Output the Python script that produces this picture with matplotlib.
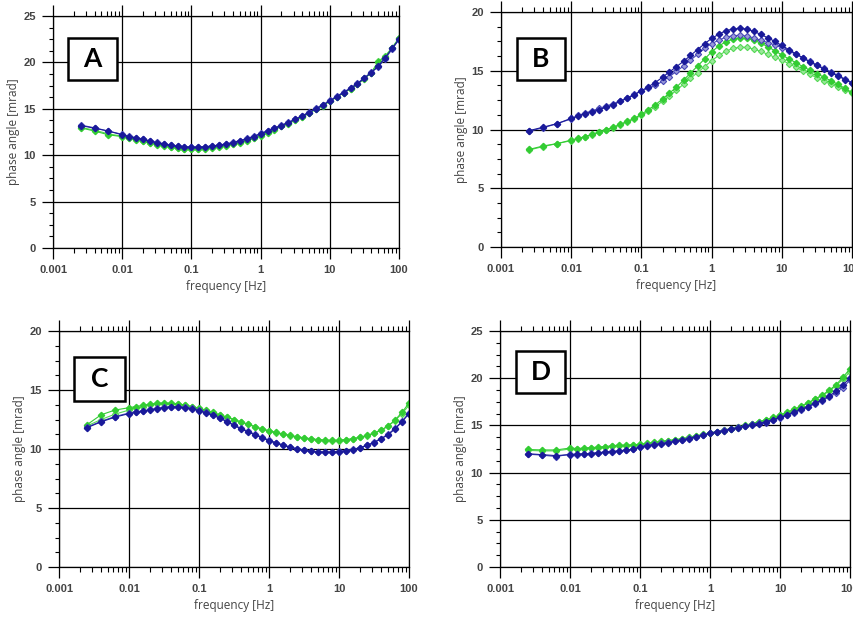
import matplotlib
matplotlib.use("Agg")
import matplotlib.pyplot as plt
from matplotlib.patches import Rectangle
from matplotlib.ticker import MultipleLocator, FixedLocator, FixedFormatter

freq = [0.0025, 0.004, 0.0063, 0.01, 0.0126, 0.0158, 0.02, 0.0251, 0.0316, 0.0398,
        0.05, 0.0631, 0.0794, 0.1, 0.126, 0.158, 0.2, 0.251, 0.316, 0.398,
        0.5, 0.631, 0.794, 1, 1.26, 1.58, 2, 2.51, 3.16, 3.98,
        5, 6.31, 7.94, 10, 12.6, 15.8, 20, 25.1, 31.6, 39.8,
        50, 63.1, 79.4, 100]

# panel A
a_blue1 = [13.2, 12.9, 12.6, 12.2, 12.0, 11.85, 11.7, 11.5, 11.35, 11.2, 11.05, 10.95, 10.88, 10.83,
           10.85, 10.9, 10.98, 11.08, 11.2, 11.35, 11.55, 11.75, 12.0, 12.3, 12.6, 12.9, 13.2, 13.5,
           13.85, 14.2, 14.6, 15.0, 15.4, 15.85, 16.3, 16.75, 17.2, 17.7, 18.3, 18.9, 19.6, 20.5, 21.5, 22.5]
a_blue2 = [13.25, 12.95, 12.6, 12.25, 12.05, 11.9, 11.75, 11.55, 11.4, 11.25, 11.1, 11.0, 10.92, 10.88,
           10.88, 10.92, 11.0, 11.1, 11.22, 11.38, 11.58, 11.8, 12.05, 12.35, 12.65, 12.95, 13.25, 13.55,
           13.9, 14.25, 14.65, 15.05, 15.45, 15.9, 16.35, 16.8, 17.25, 17.75, 18.35, 18.95, 19.5, 20.4, 21.4, 22.45]
a_green1 = [12.95, 12.6, 12.2, 12.0, 11.8, 11.65, 11.5, 11.3, 11.15, 11.0, 10.85, 10.75, 10.68, 10.65,
            10.67, 10.72, 10.8, 10.9, 11.02, 11.17, 11.35, 11.55, 11.8, 12.1, 12.4, 12.75, 13.1, 13.4,
            13.75, 14.1, 14.5, 14.95, 15.35, 15.8, 16.25, 16.7, 17.15, 17.65, 18.25, 18.9, 20.0, 20.6, 21.5, 22.6]
a_green2 = [13.0, 12.7, 12.3, 12.05, 11.85, 11.7, 11.55, 11.35, 11.2, 11.05, 10.9, 10.8, 10.72, 10.7,
            10.72, 10.77, 10.85, 10.95, 11.07, 11.22, 11.4, 11.6, 11.85, 12.15, 12.45, 12.8, 13.12, 13.45,
            13.8, 14.15, 14.55, 14.98, 15.4, 15.82, 16.28, 16.72, 17.18, 17.68, 18.28, 18.9, 20.1, 20.7, 21.6, 22.65]

# panel B
b_blue1 = [9.9, 10.2, 10.5, 10.95, 11.15, 11.35, 11.5, 11.7, 11.9, 12.1, 12.4, 12.65, 12.95, 13.3,
           13.65, 14.0, 14.45, 14.9, 15.35, 15.8, 16.3, 16.8, 17.3, 17.75, 18.1, 18.4, 18.55, 18.6,
           18.55, 18.35, 18.1, 17.8, 17.5, 17.15, 16.8, 16.45, 16.1, 15.75, 15.45, 15.15, 14.85, 14.55, 14.25, 13.95]
b_blue2 = [9.85, 10.15, 10.5, 10.9, 11.2, 11.4, 11.6, 11.8, 12.0, 12.2, 12.45, 12.7, 13.0, 13.3,
           13.5, 13.75, 14.1, 14.5, 14.95, 15.4, 15.9, 16.4, 16.9, 17.3, 17.6, 17.85, 17.98, 18.02,
           17.95, 17.8, 17.6, 17.4, 17.2, 16.95, 16.7, 16.4, 16.1, 15.8, 15.5, 15.2, 14.9, 14.6, 14.3, 14.0]
b_green1 = [8.3, 8.6, 8.8, 9.1, 9.25, 9.4, 9.6, 9.8, 10.0, 10.2, 10.45, 10.7, 10.95, 11.3,
            11.7, 12.1, 12.6, 13.1, 13.6, 14.2, 14.8, 15.4, 16.0, 16.6, 17.1, 17.45, 17.7, 17.8,
            17.75, 17.6, 17.35, 17.05, 16.7, 16.35, 16.0, 15.7, 15.35, 15.05, 14.75, 14.45, 14.15, 13.85, 13.5, 13.15]
b_green2 = [8.25, 8.55, 8.8, 9.05, 9.2, 9.4, 9.55, 9.75, 9.95, 10.15, 10.4, 10.65, 10.9, 11.2,
            11.55, 11.95, 12.4, 12.85, 13.35, 13.85, 14.35, 14.85, 15.35, 15.85, 16.3, 16.65, 16.9, 17.0,
            16.98, 16.85, 16.65, 16.4, 16.15, 15.9, 15.6, 15.3, 15.0, 14.7, 14.4, 14.1, 13.85, 13.6, 13.35, 13.1]

# panel C
c_blue1 = [11.8, 12.3, 12.7, 13.0, 13.1, 13.2, 13.3, 13.4, 13.5, 13.55, 13.55, 13.5, 13.4, 13.25,
           13.05, 12.85, 12.6, 12.3, 12.0, 11.7, 11.45, 11.2, 10.95, 10.7, 10.5, 10.3, 10.15, 10.0,
           9.9, 9.8, 9.75, 9.72, 9.72, 9.78, 9.85, 9.95, 10.1, 10.3, 10.55, 10.85, 11.2, 11.7, 12.3, 13.0]
c_blue2 = [11.85, 12.35, 12.75, 13.05, 13.15, 13.25, 13.35, 13.45, 13.55, 13.6, 13.6, 13.55, 13.45, 13.3,
           13.1, 12.9, 12.65, 12.35, 12.05, 11.75, 11.5, 11.25, 11.0, 10.75, 10.55, 10.35, 10.18, 10.03,
           9.92, 9.82, 9.77, 9.74, 9.74, 9.8, 9.87, 9.97, 10.12, 10.32, 10.58, 10.88, 11.25, 11.75, 12.35, 13.05]
c_green1 = [12.05, 12.9, 13.3, 13.5, 13.6, 13.7, 13.8, 13.88, 13.9, 13.88, 13.82, 13.72, 13.6, 13.45,
            13.28, 13.1, 12.9, 12.7, 12.5, 12.3, 12.1, 11.9, 11.7, 11.55, 11.4, 11.28, 11.15, 11.05,
            10.95, 10.87, 10.8, 10.75, 10.73, 10.75, 10.8, 10.88, 11.0, 11.15, 11.35, 11.6, 11.95, 12.45, 13.1, 13.9]
c_green2 = [11.95, 12.5, 12.95, 13.3, 13.45, 13.6, 13.72, 13.8, 13.85, 13.85, 13.8, 13.7, 13.58, 13.42,
            13.25, 13.07, 12.88, 12.68, 12.48, 12.28, 12.08, 11.88, 11.68, 11.52, 11.38, 11.25, 11.12, 11.02,
            10.92, 10.84, 10.78, 10.72, 10.7, 10.72, 10.78, 10.86, 10.98, 11.12, 11.32, 11.58, 11.92, 12.4, 13.0, 13.7]

# panel D
d_blue1 = [12.0, 11.9, 11.8, 11.9, 11.95, 12.0, 12.0, 12.1, 12.15, 12.2, 12.3, 12.4, 12.45, 12.7,
           12.85, 12.95, 13.05, 13.15, 13.3, 13.45, 13.6, 13.8, 13.95, 14.15, 14.3, 14.45, 14.6, 14.75,
           14.9, 15.05, 15.2, 15.4, 15.6, 15.85, 16.1, 16.4, 16.7, 17.0, 17.35, 17.7, 18.1, 18.6, 19.3, 20.0]
d_blue2 = [11.95, 11.85, 11.7, 11.95, 11.85, 11.95, 12.05, 12.1, 12.2, 12.25, 12.25, 12.35, 12.5, 12.75,
           12.9, 13.0, 13.1, 13.2, 13.35, 13.5, 13.65, 13.82, 13.98, 14.18, 14.35, 14.5, 14.65, 14.8,
           14.95, 15.1, 15.25, 15.3, 15.55, 15.8, 16.05, 16.35, 16.65, 16.95, 17.3, 17.6, 18.0, 18.4, 19.0, 19.8]
d_green1 = [12.45, 12.4, 12.4, 12.6, 12.55, 12.6, 12.65, 12.7, 12.75, 12.85, 12.9, 12.9, 12.95, 13.0,
            13.1, 13.2, 13.3, 13.4, 13.5, 13.6, 13.75, 13.9, 14.05, 14.2, 14.35, 14.5, 14.65, 14.8,
            15.0, 15.2, 15.4, 15.6, 15.85, 16.1, 16.4, 16.7, 17.05, 17.4, 17.8, 18.2, 18.7, 19.3, 20.1, 21.0]
d_green2 = [12.35, 12.3, 12.3, 12.5, 12.5, 12.55, 12.6, 12.65, 12.7, 12.8, 12.85, 12.85, 12.9, 12.95,
            13.05, 13.15, 13.25, 13.35, 13.45, 13.55, 13.7, 13.85, 14.0, 14.15, 14.3, 14.45, 14.6, 14.75,
            14.95, 15.15, 15.35, 15.55, 15.8, 16.05, 16.35, 16.65, 17.0, 17.35, 17.75, 18.15, 18.6, 19.2, 19.9, 20.7]

xticks = [0.001, 0.01, 0.1, 1, 10, 100]
xlabels = ["0.001", "0.01", "0.1", "1", "10", "100"]
letters = ["A", "B", "C", "D"]
ymax = [25, 20, 20, 25]
panels = [(a_blue1, a_blue2, a_green1, a_green2),
          (b_blue1, b_blue2, b_green1, b_green2),
          (c_blue1, c_blue2, c_green1, c_green2),
          (d_blue1, d_blue2, d_green1, d_green2)]

W, H = 854, 617
# axes boxes in pixels: left, top, right, bottom
ax_px = [(53, 16, 399, 248), (501, 12, 852, 247), (59, 331, 409, 567), (500, 331, 850, 567)]
# letter boxes in pixels
box_px = [(68, 38, 117, 80), (517, 38, 565, 80), (74, 357, 125, 401), (516, 351, 565, 393)]

tick_font = {"family": "Liberation Sans", "weight": "bold", "size": 8}
lab_font = {"family": "Open Sans", "size": 8.5}

fig = plt.figure(figsize=(W / 100, H / 100), dpi=100)

for i in range(4):
    l, t, r, b = ax_px[i]
    ax = fig.add_axes([l / W, 1 - b / H, (r - l) / W, (b - t) / H])
    blue1, blue2, green1, green2 = panels[i]

    ax.plot(freq, green2, color="#55d855", lw=0.8, marker="D", ms=3.2, mfc="#9be89b", mec="#55d855", mew=0.8)
    ax.plot(freq, green1, color="#33cc33", lw=0.8, marker="D", ms=3.2, mfc="#33cc33", mec="#33cc33")
    ax.plot(freq, blue2, color="#4848b8", lw=0.8, marker="D", ms=3.2, mfc="#9a9ad8", mec="#4848b8", mew=0.8)
    ax.plot(freq, blue1, color="#1a1a9a", lw=0.8, marker="D", ms=3.2, mfc="#1a1a9a", mec="#1a1a9a")

    ax.set_xscale("log")
    ax.set_xlim(0.001, 100)
    ax.set_ylim(0, ymax[i])
    ax.xaxis.set_major_locator(FixedLocator(xticks))
    ax.xaxis.set_major_formatter(FixedFormatter(xlabels))
    ax.yaxis.set_major_locator(MultipleLocator(5))
    ax.yaxis.set_minor_locator(MultipleLocator(1.25))

    ax.grid(True, which="major", color="black", lw=0.9)
    for s in ax.spines.values():
        s.set_color("black")
        s.set_linewidth(0.9)
    ax.tick_params(axis="x", which="both", direction="out", top=True, bottom=True, colors="black",
                   labelcolor="#444444", pad=4)
    ax.tick_params(axis="y", which="both", direction="out", left=True, right=False, colors="black",
                   labelcolor="#444444", pad=4.5)
    ax.tick_params(which="major", length=8, width=0.9)
    ax.tick_params(axis="x", which="minor", length=3.8, width=0.8)
    ax.tick_params(axis="y", which="minor", length=3, width=0.8)
    for lab in ax.get_xticklabels() + ax.get_yticklabels():
        lab.set_fontproperties(tick_font)

    ax.set_xlabel("frequency [Hz]", color="#444444", labelpad=4, **lab_font)
    ax.set_ylabel("phase angle [mrad]", color="#444444", labelpad=2, **lab_font)

    x1, y1, x2, y2 = box_px[i]
    fig.add_artist(Rectangle((x1 / W, 1 - y2 / H), (x2 - x1) / W, (y2 - y1) / H,
                             transform=fig.transFigure, facecolor="white", edgecolor="black",
                             lw=1.8, zorder=5))
    fig.text((x1 + x2) / 2 / W, 1 - (y1 + y2) / 2 / H, letters[i], ha="center", va="center",
             fontsize=19, fontweight="bold", family="Lato", color="black", zorder=6)

fig.savefig("out.png", dpi=100)
